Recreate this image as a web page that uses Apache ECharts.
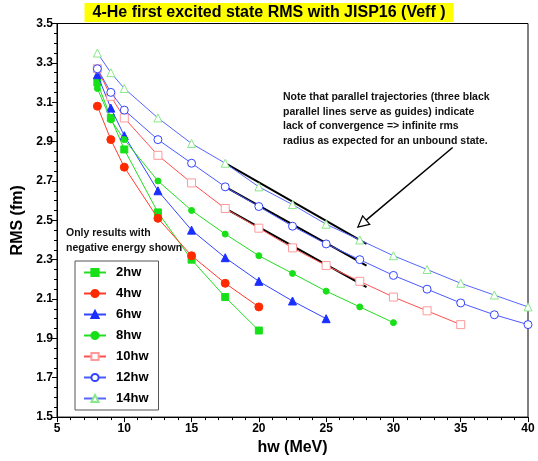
<!DOCTYPE html>
<html><head><meta charset="utf-8">
<script src="https://cdn.jsdelivr.net/npm/echarts@6/dist/echarts.min.js"></script>
<style>html,body{margin:0;padding:0;background:#fff}#c{width:538px;height:461px}</style>
</head><body><div id="c"></div>
<script>
// hw values (MeV) shared by all series
const hw = [8, 9, 10, 12.5, 15, 17.5, 20, 22.5, 25, 27.5, 30, 32.5, 35, 37.5, 40];
// RMS (fm) per Nmax truncation (values start at hw=8)
const rms2hw  = [3.20, 3.02, 2.86, 2.54, 2.30, 2.11, 1.94];
const rms4hw  = [3.08, 2.91, 2.77, 2.51, 2.32, 2.18, 2.06];
const rms6hw  = [3.24, 3.07, 2.93, 2.65, 2.45, 2.31, 2.19, 2.09, 2.00];
const rms8hw  = [3.17, 3.01, 2.91, 2.70, 2.55, 2.43, 2.32, 2.23, 2.14, 2.06, 1.98];
const rms10hw = [3.27, 3.13, 3.02, 2.83, 2.69, 2.56, 2.46, 2.36, 2.27, 2.19, 2.11, 2.04, 1.97];
const rms12hw = [3.27, 3.15, 3.06, 2.91, 2.79, 2.67, 2.57, 2.47, 2.38, 2.30, 2.22, 2.15, 2.08, 2.02, 1.97];
const rms14hw = [3.35, 3.25, 3.17, 3.02, 2.89, 2.79, 2.67, 2.58, 2.48, 2.40, 2.32, 2.25, 2.18, 2.12, 2.06];
const seriesNames = ['2hw', '4hw', '6hw', '8hw', '10hw', '12hw', '14hw'];
// black guide lines
const guideX = [17.5, 28];
const guideTop = [2.79, 2.38];
const guideMid = [2.67, 2.27];
const guideBot = [2.56, 2.16];
// arrow (from, to) in data coords
const arrowSeg = [[34.4, 2.87, 27.35, 2.465]];
// axes
const xMin = 5, xMax = 40, xStep = 5;
const yMin = 1.5, yMax = 3.5, yStep = 0.2;

const FONT = '"Liberation Sans", Arial, Helvetica, sans-serif';
const zip = (vals) => vals.map((v, i) => [hw[i], v]);
const zipX = (xs, ys) => xs.map((x, i) => [x, ys[i]]);

const styles = [
  {sym: 'rect', size: 7, line: '#22dd22', fill: '#18e018', border: '#18e018'},
  {sym: 'circle', size: 8, line: '#ff3a2a', fill: '#ff2a00', border: '#ff2a00'},
  {sym: 'triangle', size: 8, line: '#3344ff', fill: '#1a2eff', border: '#1a2eff'},
  {sym: 'circle', size: 6, line: '#22dd22', fill: '#18e018', border: '#18e018'},
  {sym: 'rect', size: 8, line: '#ff5050', fill: '#ffffff', border: '#ff9a9a'},
  {sym: 'circle', size: 8, line: '#4a5aff', fill: '#ffffff', border: '#3344ff'},
  {sym: 'triangle', size: 8, line: '#5566ff', fill: '#ffffff', border: '#88e888'}
];
const allData = [rms2hw, rms4hw, rms6hw, rms8hw, rms10hw, rms12hw, rms14hw];

const series = [];
[guideTop, guideMid, guideBot].forEach((g, i) => {
  series.push({
    name: 'guide' + i, type: 'line', data: zipX(guideX, g), symbol: 'none',
    lineStyle: {color: '#000', width: 2}, z: 3, silent: true, animation: false
  });
});
allData.forEach((vals, i) => {
  const s = styles[i];
  series.push({
    name: seriesNames[i], type: 'line', data: zip(vals),
    symbol: s.sym, symbolSize: s.size, showAllSymbol: true,
    lineStyle: {color: s.line, width: 1},
    itemStyle: {color: s.fill, borderColor: s.border, borderWidth: 1},
    z: 4 + i, animation: false
  });
});
series.push({
  name: 'arrow', type: 'custom', data: arrowSeg, encode: {x: [0, 2], y: [1, 3]},
  silent: true, animation: false, z: 20,
  renderItem: function (params, api) {
    const p0 = api.coord([api.value(0), api.value(1)]);
    const p1 = api.coord([api.value(2), api.value(3)]);
    const dx = p1[0] - p0[0], dy = p1[1] - p0[1];
    const L = Math.sqrt(dx * dx + dy * dy);
    const ux = dx / L, uy = dy / L;
    const hl = 11, hwid = 5.5;
    const bx = p1[0] - ux * hl, by = p1[1] - uy * hl;
    const nx = -uy, ny = ux;
    return {
      type: 'group', children: [
        {type: 'line', shape: {x1: p0[0], y1: p0[1], x2: bx, y2: by}, style: {stroke: '#000', lineWidth: 1.5}},
        {type: 'polygon', shape: {points: [[p1[0], p1[1]], [bx + nx * hwid, by + ny * hwid], [bx - nx * hwid, by - ny * hwid]]},
         style: {fill: '#fff', stroke: '#000', lineWidth: 1.2}}
      ]
    };
  }
});

const chart = echarts.init(document.getElementById('c'), null, {renderer: 'canvas'});
chart.setOption({
  animation: false,
  backgroundColor: '#fff',
  textStyle: {fontFamily: FONT},
  title: {
    text: '4-He first excited state RMS with JISP16 (Veff )',
    left: 'center', top: 3,
    backgroundColor: '#ffff00', padding: [1, 8, 1, 8],
    textStyle: {fontFamily: FONT, fontSize: 16, fontWeight: 'bold', color: '#000', lineHeight: 17}
  },
  grid: {left: 57, right: 10, top: 23.5, bottom: 42.5, show: true, borderColor: '#000', borderWidth: 1, backgroundColor: 'transparent'},
  legend: {
    data: seriesNames, orient: 'vertical', left: 75, top: 261,
    itemWidth: 22, itemHeight: 9, itemGap: 6,
    padding: [4, 10, 4, 8], borderColor: '#555', borderWidth: 1,
    textStyle: {fontFamily: FONT, fontSize: 13, fontWeight: 'bold', color: '#000', padding: [0, 0, 0, 5], lineHeight: 15}
  },
  xAxis: {
    type: 'value', min: xMin, max: xMax, interval: xStep,
    name: 'hw (MeV)', nameLocation: 'middle', nameGap: 21,
    nameTextStyle: {fontFamily: FONT, fontSize: 16, fontWeight: 'bold', color: '#000'},
    axisLine: {lineStyle: {color: '#000', width: 1}},
    axisTick: {show: true, inside: false, length: 5, lineStyle: {color: '#000'}},
    minorTick: {show: true, splitNumber: 5, length: 3, lineStyle: {color: '#000'}},
    splitLine: {show: false},
    axisLabel: {fontFamily: FONT, fontSize: 12, fontWeight: 'bold', color: '#000', margin: 6}
  },
  yAxis: {
    type: 'value', min: yMin, max: yMax, interval: yStep,
    name: 'RMS (fm)', nameLocation: 'middle', nameGap: 31,
    nameTextStyle: {fontFamily: FONT, fontSize: 16, fontWeight: 'bold', color: '#000'},
    axisLine: {show: true, lineStyle: {color: '#000', width: 1}},
    axisTick: {show: true, inside: false, length: 5, lineStyle: {color: '#000'}},
    minorTick: {show: true, splitNumber: 4, length: 3, lineStyle: {color: '#000'}},
    splitLine: {show: false},
    axisLabel: {fontFamily: FONT, fontSize: 12, fontWeight: 'bold', color: '#000', margin: 4,
      formatter: (v) => v.toFixed(1)}
  },
  graphic: [
    {type: 'text', left: 283, top: 90, z: 30, style: {
      text: 'Note that parallel trajectories (three black\nparallel lines serve as guides) indicate\nlack of convergence => infinite rms\nradius as expected for an unbound state.',
      font: 'bold 10.5px ' + FONT, fill: '#111', lineHeight: 14.5}},
    {type: 'text', left: 66, top: 226, z: 30, style: {
      text: 'Only results with\nnegative energy shown',
      font: 'bold 10.5px ' + FONT, fill: '#111', lineHeight: 15}}
  ],
  series: series
});
</script></body></html>
